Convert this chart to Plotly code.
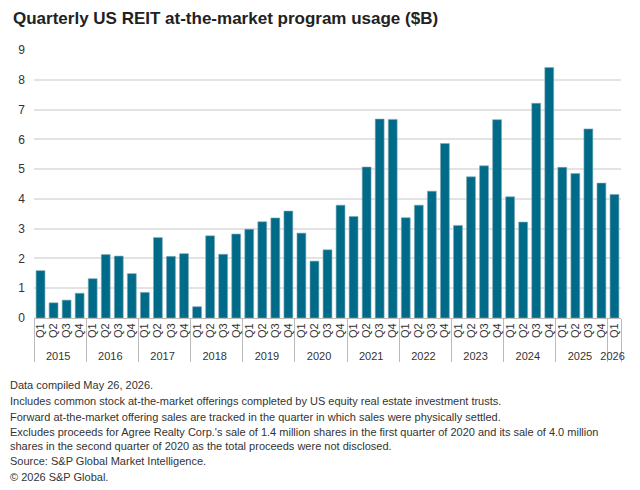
import plotly.graph_objects as go

years = [str(y) for y in range(2015, 2026) for _ in range(4)] + ["2026"]
quarters = ["Q1", "Q2", "Q3", "Q4"] * 11 + ["Q1"]
values = [1.59, 0.51, 0.60, 0.83,
          1.32, 2.13, 2.08, 1.49,
          0.86, 2.70, 2.07, 2.16,
          0.38, 2.76, 2.14, 2.82,
          2.98, 3.23, 3.36, 3.59,
          2.85, 1.91, 2.29, 3.79,
          3.41, 5.07, 6.68, 6.67,
          3.37, 3.79, 4.26, 5.86,
          3.11, 4.74, 5.11, 6.66,
          4.07, 3.22, 7.21, 8.41,
          5.06, 4.85, 6.35, 4.53,
          4.15]

title = "Quarterly US REIT at-the-market program usage ($B)"
notes = [
    "Data compiled May 26, 2026.",
    "Includes common stock at-the-market offerings completed by US equity real estate investment trusts.",
    "Forward at-the-market offering sales are tracked in the quarter in which sales were physically settled.",
    "Excludes proceeds for Agree Realty Corp.'s sale of 1.4 million shares in the first quarter of 2020 and its sale of 4.0 million<br>shares in the second quarter of 2020 as the total proceeds were not disclosed.",
    "Source: S&P Global Market Intelligence.",
    "© 2026 S&P Global.",
]

FONT = "Liberation Sans"
PW = 587
PH = 268

fig = go.Figure(go.Bar(
    x=[years, quarters], y=values,
    marker=dict(color="#006b88", line=dict(color="#7fa7b5", width=0.6)),
    width=0.68,
))

fig.update_layout(
    width=640, height=490,
    margin=dict(l=34, r=19, t=50, b=172),
    paper_bgcolor="white", plot_bgcolor="white",
    font=dict(family=FONT, color="#333333", size=12),
    showlegend=False,
)
fig.update_xaxes(
    type="multicategory",
    tickangle=-90,
    tickfont=dict(size=11, color="#333333"),
    showline=True, linecolor="#bbbbbb", linewidth=1,
    dividercolor="#bbbbbb", dividerwidth=1,
    showgrid=False,
)
fig.update_yaxes(
    range=[0, 9], dtick=1,
    gridcolor="#e3e3e3", gridwidth=1.5,
    zeroline=False, showline=False,
    tickfont=dict(size=12, color="#333333"),
    ticks="", ticklabelstandoff=8,
)

annotations = [dict(
    text="<b>" + title + "</b>", x=(11 - 34) / PW, y=(318 - 18) / PH,
    xref="paper", yref="paper",
    showarrow=False, font=dict(size=17, color="#222222", family=FONT),
    xanchor="left", yanchor="middle",
)]

note_y = [385, 401, 417, 439, 461, 477]
for txt, ypx in zip(notes, note_y):
    annotations.append(dict(
        text=txt, x=(8 - 34) / PW, y=(318 - ypx) / PH, xref="paper", yref="paper",
        showarrow=False, xanchor="left", yanchor="middle", align="left",
        font=dict(size=11, color="#333333", family=FONT),
    ))
fig.update_layout(annotations=annotations)

fig.write_html("out.html")
